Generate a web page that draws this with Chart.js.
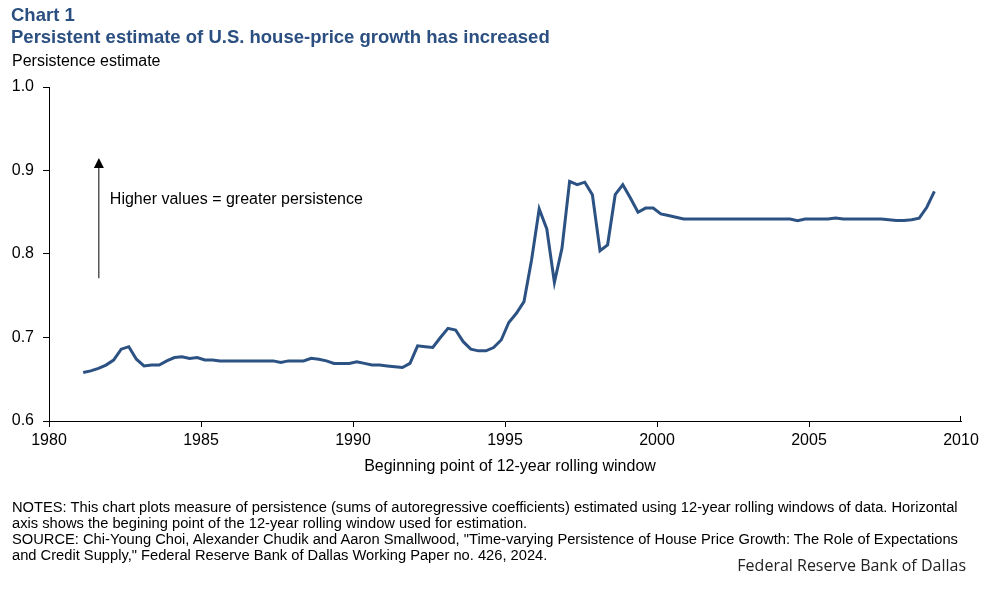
<!DOCTYPE html>
<html lang="en">
<head>
  <meta charset="UTF-8"/>
  <title>Chart 1 – Persistence estimate</title>
  <script src="https://cdn.jsdelivr.net/npm/chart.js"></script>
  <style>
    body { margin: 0; background: #fff; font-family: "Liberation Sans", Arial, sans-serif; }
    .wrap { position: relative; width: 997px; height: 589px; overflow: hidden; }
    .wrap canvas { position: absolute; left: 0; top: 0; }
    .txt { position: absolute; white-space: nowrap; color: #000; }
    .title { color: #2b4f80; font-weight: bold; font-size: 18.5px; left: 11px; }
    .notes { left: 12px; top: 499px; font-size: 14.7px; line-height: 16px; }
    .brand { right: 31px; top: 554px; font-size: 16px; font-family: "Open Sans", "Noto Sans", sans-serif; color: #222; }
  </style>
</head>
<body>
  <div class="wrap">
    <canvas id="chart" width="997" height="589"></canvas>
    <div class="txt title" style="top:4px">Chart 1</div>
    <div class="txt title" style="top:26px">Persistent estimate of U.S. house-price growth has increased</div>
    <div class="txt" style="left:12px;top:52px;font-size:16px">Persistence estimate</div>
    <div class="txt" style="left:0;width:1020px;text-align:center;top:457px;font-size:16px">Beginning point of 12-year rolling window</div>
    <div class="txt notes">NOTES: This chart plots measure of persistence (sums of autoregressive coefficients) estimated using 12-year rolling windows of data. Horizontal<br/>axis shows the begining point of the 12-year rolling window used for estimation.<br/>SOURCE: Chi-Young Choi, Alexander Chudik and Aaron Smallwood, "Time-varying Persistence of House Price Growth: The Role of Expectations<br/>and Credit Supply," Federal Reserve Bank of Dallas Working Paper no. 426, 2024.</div>
    <div class="txt brand">Federal Reserve Bank of Dallas</div>
  </div>
  <script>
    // quarterly windows, first one starts 1981Q1 (plotted at mid-quarter)
    const START_YEAR = 1981;
    const persistence = [
      0.658, 0.660, 0.663, 0.667, 0.673, 0.686, 0.689, 0.674, 0.666, 0.667,
      0.667, 0.672, 0.676, 0.677, 0.675, 0.676, 0.673, 0.673, 0.672, 0.672,
      0.672, 0.672, 0.672, 0.672, 0.672, 0.672, 0.670, 0.672, 0.672, 0.672,
      0.675, 0.674, 0.672, 0.669, 0.669, 0.669, 0.671, 0.669, 0.667, 0.667,
      0.666, 0.665, 0.664, 0.669, 0.690, 0.689, 0.688, 0.700, 0.711, 0.709,
      0.695, 0.686, 0.684, 0.684, 0.688, 0.697, 0.718, 0.729, 0.743, 0.793,
      0.854, 0.830, 0.766, 0.807, 0.887, 0.883, 0.886, 0.871, 0.804, 0.811,
      0.871, 0.883, 0.867, 0.850, 0.855, 0.855, 0.848, 0.846, 0.844, 0.842,
      0.842, 0.842, 0.842, 0.842, 0.842, 0.842, 0.842, 0.842, 0.842, 0.842,
      0.842, 0.842, 0.842, 0.842, 0.840, 0.842, 0.842, 0.842, 0.842, 0.843,
      0.842, 0.842, 0.842, 0.842, 0.842, 0.842, 0.841, 0.840, 0.840, 0.841,
      0.843, 0.856, 0.875
    ];
    const xTicks = [1980, 1985, 1990, 1995, 2000, 2005, 2010];
    const yTicks = [0.6, 0.7, 0.8, 0.9, 1.0];
    const note = { text: "Higher values = greater persistence", x: 1981.64, arrowFrom: 0.771, arrowTo: 0.915, textY: 0.865 };

    const points = persistence.map((v, i) => ({ x: START_YEAR + i / 4 + 0.125, y: v }));
    const lastX = xTicks[xTicks.length - 1];

    const notePlugin = {
      id: "note",
      afterDatasetsDraw(chart) {
        const { ctx, chartArea, scales: { x, y } } = chart;
        const px = x.getPixelForValue(note.x);
        const y0 = y.getPixelForValue(note.arrowFrom);
        const y1 = y.getPixelForValue(note.arrowTo);
        ctx.save();
        ctx.strokeStyle = "#000";
        ctx.fillStyle = "#000";
        ctx.lineWidth = 1;
        ctx.beginPath();
        ctx.moveTo(px, y0);
        ctx.lineTo(px, y1 + 8);
        ctx.stroke();
        ctx.beginPath();
        ctx.moveTo(px, y1);
        ctx.lineTo(px - 5, y1 + 10);
        ctx.lineTo(px + 5, y1 + 10);
        ctx.closePath();
        ctx.fill();
        // last x tick points up into the plot
        const ex = Math.round(x.getPixelForValue(lastX)) - 0.5;
        ctx.beginPath();
        ctx.moveTo(ex, chartArea.bottom);
        ctx.lineTo(ex, chartArea.bottom - 5);
        ctx.stroke();
        ctx.font = '16px "Liberation Sans", Arial, sans-serif';
        ctx.textBaseline = "middle";
        ctx.fillText(note.text, px + 11, y.getPixelForValue(note.textY));
        ctx.restore();
      }
    };

    new Chart(document.getElementById("chart"), {
      type: "line",
      data: {
        datasets: [{
          data: points,
          borderColor: "#2c5283",
          borderWidth: 3,
          pointRadius: 0,
          tension: 0,
          fill: false
        }]
      },
      options: {
        responsive: false,
        animation: false,
        layout: { padding: { top: 87, right: 36, bottom: 138, left: 0 } },
        plugins: { legend: { display: false }, tooltip: { enabled: false } },
        scales: {
          x: {
            type: "linear",
            min: xTicks[0],
            max: lastX,
            afterFit: s => { s.height = 30; },
            afterBuildTicks: s => { s.ticks = xTicks.map(v => ({ value: v })); },
            ticks: { callback: v => String(v), color: "#000", padding: 4, maxRotation: 0,
                     font: { family: '"Liberation Sans", Arial, sans-serif', size: 16 } },
            grid: { drawOnChartArea: false, drawTicks: true, tickLength: 6,
                    color: c => (c.tick && c.tick.value === lastX) ? "rgba(0,0,0,0)" : "#000" },
            border: { display: true, color: "#000", width: 1 }
          },
          y: {
            min: yTicks[0],
            max: yTicks[yTicks.length - 1],
            afterFit: s => { s.width = 49; },
            afterBuildTicks: s => { s.ticks = yTicks.map(v => ({ value: v })); },
            ticks: { callback: v => v.toFixed(1), color: "#000", padding: 9,
                     font: { family: '"Liberation Sans", Arial, sans-serif', size: 16 } },
            grid: { drawOnChartArea: false, drawTicks: true, tickLength: 6, color: "#000" },
            border: { display: true, color: "#000", width: 1 }
          }
        }
      },
      plugins: [notePlugin]
    });
  </script>
</body>
</html>
